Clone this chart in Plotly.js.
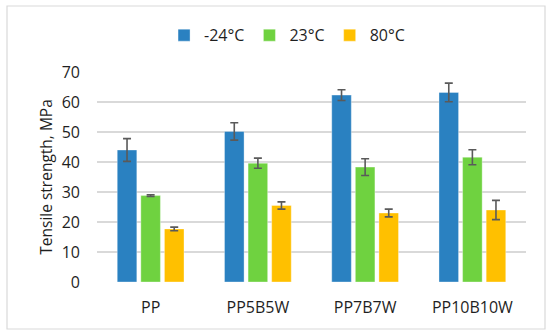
<!DOCTYPE html>
<html>
<head>
<meta charset="utf-8">
<script src="https://cdn.plot.ly/plotly-3.0.1.min.js"></script>
<style>html,body{margin:0;padding:0;background:#fff;}#chart{width:550px;height:335px;}</style>
</head>
<body>
<div id="chart"></div>
<script>
const categories = ["PP", "PP5B5W", "PP7B7W", "PP10B10W"];
const seriesNames = ["-24°C", "23°C", "80°C"];
const valsM24 = [44.0, 50.2, 62.3, 63.2];
const errM24 = [3.8, 2.9, 1.8, 3.1];
const vals23 = [28.8, 39.6, 38.3, 41.6];
const err23 = [0.3, 1.7, 2.8, 2.5];
const vals80 = [17.7, 25.5, 23.0, 24.0];
const err80 = [0.6, 1.2, 1.3, 3.2];
const colors = ["#2A81C1", "#6FD240", "#FFC000"];
const yTitle = "Tensile strength, MPa";

const values = [valsM24, vals23, vals80];
const errors = [errM24, err23, err80];
const traces = values.map((v, i) => ({
  type: "bar",
  name: seriesNames[i],
  x: categories,
  y: v,
  marker: {color: colors[i], line: {color: "rgba(255,255,255,0.35)", width: 1}},
  error_y: {type: "data", array: errors[i], visible: true, color: "#5A5A5A", thickness: 1.6, width: 4}
}));

const font = {family: "Open Sans, sans-serif", size: 16, color: "#1F1F1F"};
const layout = {
  width: 550, height: 335,
  margin: {l: 97, r: 24, t: 72, b: 53},
  paper_bgcolor: "#fff", plot_bgcolor: "#fff",
  font: font,
  barmode: "group",
  bargap: 0.34,
  bargroupgap: 0.17,
  showlegend: true,
  legend: {orientation: "h", x: 0.443, y: 1.175, xanchor: "center", yanchor: "middle",
           font: {family: "Open Sans, sans-serif", size: 16, color: "#1F1F1F"},
           itemwidth: 30, tracegroupgap: 0, bgcolor: "rgba(0,0,0,0)"},
  xaxis: {showgrid: false, zeroline: false, showline: false, ticks: "",
          ticklabelstandoff: 14, tickfont: {size: 16}},
  yaxis: {range: [0, 70], dtick: 10, showgrid: true, gridcolor: "#D9D9D9", gridwidth: 1.5,
          zeroline: false, showline: false, ticks: "", ticklabelstandoff: 16,
          tickfont: {size: 16},
          title: {text: yTitle, font: {size: 15.5, color: "#1F1F1F"}, standoff: 5}},
  shapes: [{type: "rect", xref: "paper", yref: "paper",
            x0: -0.2098, x1: 1.0443, y0: -0.2238, y1: 1.3143,
            line: {color: "#D9D9D9", width: 1.2}, fillcolor: "rgba(0,0,0,0)", layer: "below"}]
};
Plotly.newPlot("chart", traces, layout, {displayModeBar: false, staticPlot: true});
</script>
</body>
</html>
